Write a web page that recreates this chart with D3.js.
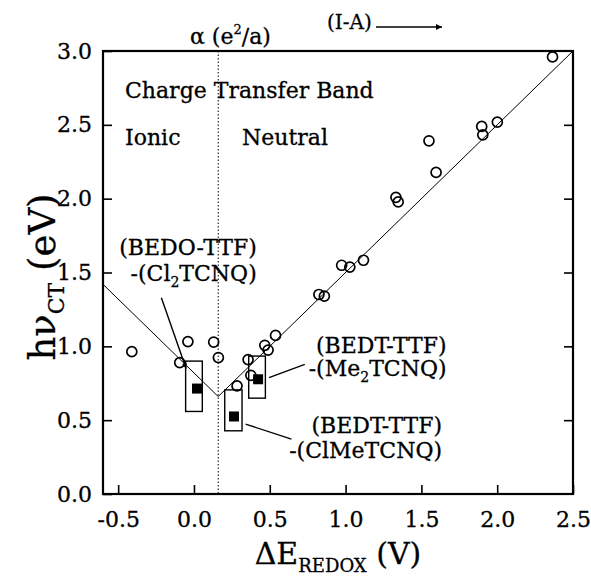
<!DOCTYPE html>
<html>
<head>
<meta charset="utf-8">
<script src="https://cdn.jsdelivr.net/npm/d3@7"></script>
<style>
  body { margin: 0; background: #fff; }
  svg text { font-family: "DejaVu Serif", serif; fill: #000; stroke: #000; stroke-width: 0.3px; }
</style>
</head>
<body>
<div id="chart"></div>
<script>
// open circles: CT band energies vs redox potential difference
const ctX = [-0.41, -0.094, -0.04, 0.13, 0.161, 0.284, 0.357, 0.375, 0.467, 0.489, 0.538,
             0.824, 0.86, 0.974, 1.028, 1.118, 1.332, 1.347, 1.55, 1.597, 1.898, 1.905, 2.001, 2.365];
const ctY = [0.964, 0.89, 1.032, 1.029, 0.924, 0.732, 0.91, 0.804, 1.007, 0.975, 1.074,
             1.351, 1.34, 1.549, 1.537, 1.583, 2.009, 1.978, 2.392, 2.178, 2.489, 2.432, 2.518, 2.96];

// filled squares with their ranges (boxes)
const sqX = [0.02, 0.264, 0.423];
const sqY = [0.714, 0.525, 0.777];
const boxX0 = [-0.055, 0.203, 0.361];
const boxX1 = [0.055, 0.317, 0.471];
const boxY0 = [0.559, 0.428, 0.649];
const boxY1 = [0.90, 0.705, 0.934];

// V-shaped guide line
const vX = [-0.6, 0.16, 2.5];
const vY = [1.42, 0.66, 3.0];
const boundaryX = 0.16;

const xTicks = [-0.5, 0.0, 0.5, 1.0, 1.5, 2.0, 2.5];
const yTicks = [0.0, 0.5, 1.0, 1.5, 2.0, 2.5, 3.0];

const W = 591, H = 578;
const margin = {top: 51, right: 18, bottom: 84, left: 103};

const svg = d3.select("#chart").append("svg")
  .attr("width", W).attr("height", H);

const x = d3.scaleLinear().domain([-0.6, 2.5]).range([margin.left, W - margin.right]);
const y = d3.scaleLinear().domain([0, 3]).range([H - margin.bottom, margin.top]);

const fmt = d => d3.format(".1f")(d).replace("\u2212", "-");

// axes (inward ticks)
const gx = svg.append("g").attr("transform", `translate(0,${y(0)})`)
  .call(d3.axisBottom(x).tickValues(xTicks).tickSize(-9).tickPadding(17).tickFormat(fmt));
const gy = svg.append("g").attr("transform", `translate(${x(-0.6)},0)`)
  .call(d3.axisLeft(y).tickValues(yTicks).tickSize(-9).tickPadding(11).tickFormat(fmt));
const gr = svg.append("g").attr("transform", `translate(${x(2.5)},0)`)
  .call(d3.axisRight(y).tickValues(yTicks.slice(1, -1)).tickSize(-9).tickFormat(""));
[gx, gy, gr].forEach(g => {
  g.select(".domain").remove();
  g.selectAll(".tick line").attr("stroke", "#000").attr("stroke-width", 1.6);
  g.selectAll(".tick text").attr("font-size", 22).attr("font-family", "DejaVu Serif");
});

// frame
svg.append("rect")
  .attr("x", x(-0.6)).attr("y", y(3))
  .attr("width", x(2.5) - x(-0.6)).attr("height", y(0) - y(3))
  .attr("fill", "none").attr("stroke", "#000").attr("stroke-width", 2.2);

// dotted boundary
svg.append("line")
  .attr("x1", x(boundaryX)).attr("x2", x(boundaryX))
  .attr("y1", y(3)).attr("y2", y(0))
  .attr("stroke", "#000").attr("stroke-width", 1).attr("stroke-dasharray", "1.5,2");

// V line
svg.append("path")
  .datum(d3.range(vX.length))
  .attr("d", d3.line().x(i => x(vX[i])).y(i => y(vY[i])))
  .attr("fill", "none").attr("stroke", "#000").attr("stroke-width", 1);

// boxes
svg.selectAll(".box").data(d3.range(boxX0.length)).enter().append("rect")
  .attr("x", i => x(boxX0[i])).attr("y", i => y(boxY1[i]))
  .attr("width", i => x(boxX1[i]) - x(boxX0[i]))
  .attr("height", i => y(boxY0[i]) - y(boxY1[i]))
  .attr("fill", "none").attr("stroke", "#000").attr("stroke-width", 1.4);

// open circles
svg.selectAll(".pt").data(d3.range(ctX.length)).enter().append("circle")
  .attr("cx", i => x(ctX[i])).attr("cy", i => y(ctY[i])).attr("r", 5)
  .attr("fill", "none").attr("stroke", "#000").attr("stroke-width", 1.7);

// filled squares
svg.selectAll(".sq").data(d3.range(sqX.length)).enter().append("rect")
  .attr("x", i => x(sqX[i]) - 5).attr("y", i => y(sqY[i]) - 5)
  .attr("width", 10).attr("height", 10).attr("fill", "#000");

// arrow markers
const defs = svg.append("defs");
defs.append("marker").attr("id", "ah").attr("viewBox", "0 0 10 10")
  .attr("refX", 10).attr("refY", 5).attr("markerWidth", 11).attr("markerHeight", 6)
  .attr("markerUnits", "userSpaceOnUse").attr("orient", "auto")
  .append("path").attr("d", "M0,0L10,5L0,10z").attr("fill", "#000");
defs.append("marker").attr("id", "ahs").attr("viewBox", "0 0 10 10")
  .attr("refX", 10).attr("refY", 5).attr("markerWidth", 6).attr("markerHeight", 5)
  .attr("markerUnits", "userSpaceOnUse").attr("orient", "auto")
  .append("path").attr("d", "M0,0L10,5L0,10z").attr("fill", "#000");

// leader lines
const leaders = [
  {x1: -0.215, y1: 1.329, x2: -0.052, y2: 0.85, arrow: true},
  {x1: 0.495, y1: 0.788, x2: 0.731, y2: 0.878},
  {x1: 0.341, y1: 0.473, x2: 0.643, y2: 0.372}
];
leaders.forEach(l => {
  const ln = svg.append("line")
    .attr("x1", x(l.x1)).attr("y1", y(l.y1)).attr("x2", x(l.x2)).attr("y2", y(l.y2))
    .attr("stroke", "#000").attr("stroke-width", 1.4);
  if (l.arrow) ln.attr("marker-end", "url(#ahs)");
});

// annotation labels (right aligned)
function label(xv, yv, parts) {
  const t = svg.append("text").attr("x", x(xv)).attr("y", y(yv))
    .attr("text-anchor", "end").attr("font-size", 22);
  parts.forEach(p => {
    const s = t.append("tspan").text(p[0]);
    if (p[1] === "sub") s.attr("font-size", 14).attr("dy", 6);
    if (p[1] === "up") s.attr("dy", -6);
  });
}
label(0.414, 1.62, [["(BEDO-TTF)"]]);
label(0.414, 1.44, [["-(Cl"], ["2", "sub"], ["TCNQ)", "up"]]);
label(1.666, 0.957, [["(BEDT-TTF)"]]);
label(1.666, 0.801, [["-(Me"], ["2", "sub"], ["TCNQ)", "up"]]);
label(1.636, 0.415, [["(BEDT-TTF)"]]);
label(1.636, 0.246, [["-(ClMeTCNQ)"]]);

// region labels
svg.append("text").attr("x", 125).attr("y", 98).attr("font-size", 22).text("Charge Transfer Band");
svg.append("text").attr("x", 125).attr("y", 145).attr("font-size", 22).text("Ionic");
svg.append("text").attr("x", 242).attr("y", 145).attr("font-size", 22).text("Neutral");

// top labels
const al = svg.append("text").attr("x", 190).attr("y", 44).attr("font-size", 22);
al.append("tspan").text("\u03B1 (e");
al.append("tspan").text("2").attr("font-size", 13).attr("dy", -10);
al.append("tspan").text("/a)").attr("dy", 10);
svg.append("text").attr("x", 327).attr("y", 29).attr("font-size", 20).text("(I-A)");
svg.append("line").attr("x1", 376).attr("x2", 442).attr("y1", 27).attr("y2", 27)
  .attr("stroke", "#000").attr("stroke-width", 1.4).attr("marker-end", "url(#ah)");

// axis titles
const xt = svg.append("text").attr("x", (x(-0.6) + x(2.5)) / 2).attr("y", 564)
  .attr("text-anchor", "middle").attr("font-size", 30);
xt.append("tspan").text("\u0394E");
xt.append("tspan").text("REDOX").attr("font-size", 18).attr("dy", 8);
xt.append("tspan").text(" (V)").attr("dy", -8);

const yt = svg.append("text")
  .attr("transform", `translate(55,277) rotate(-90)`)
  .attr("text-anchor", "middle").attr("font-size", 37);
yt.append("tspan").text("h\u03BD");
yt.append("tspan").text("CT").attr("font-size", 22).attr("dy", 9);
yt.append("tspan").text(" (eV)").attr("dy", -9);
</script>
</body>
</html>
